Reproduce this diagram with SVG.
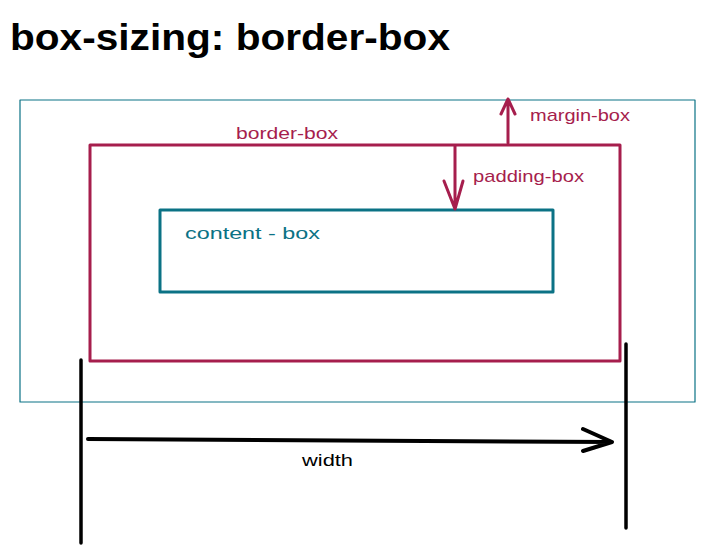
<svg xmlns="http://www.w3.org/2000/svg" width="705" height="553" viewBox="0 0 705 553">
<style>
.crim{stroke:#a61e4d;fill:none;stroke-linecap:round;stroke-linejoin:round}
.teal{stroke:#0b7285;fill:none;stroke-linecap:round;stroke-linejoin:round}
.blk{stroke:#000;fill:none;stroke-linecap:round;stroke-linejoin:round}
.lbl{font-family:"Liberation Sans",Arial,sans-serif;font-size:17px}
</style>
<rect width="705" height="553" fill="#fff"/>
<g id="title"><text x="10" y="50" font-family="Liberation Sans, Arial, sans-serif" font-size="36" font-weight="bold" fill="#000" textLength="440" lengthAdjust="spacingAndGlyphs">box-sizing: border-box</text></g>
<g id="margin-box"><rect class="teal" x="20" y="100" width="675" height="302" stroke-width="1.2"/></g>
<g id="border-box"><rect class="crim" x="90" y="145" width="530" height="216" stroke-width="3"/>
<text class="lbl" x="236" y="139" fill="#a61e4d" textLength="102" lengthAdjust="spacingAndGlyphs">border-box</text></g>
<g id="content-box"><rect class="teal" x="160" y="210" width="393" height="82" stroke-width="3"/>
<text class="lbl" x="185" y="239" fill="#0b7285" textLength="135" lengthAdjust="spacingAndGlyphs">content - box</text></g>
<g id="labels">
<text class="lbl" x="530" y="121" fill="#a61e4d" textLength="100" lengthAdjust="spacingAndGlyphs">margin-box</text>
<text class="lbl" x="473" y="182" fill="#a61e4d" textLength="111" lengthAdjust="spacingAndGlyphs">padding-box</text>
<text class="lbl" x="302" y="466" fill="#000" textLength="51" lengthAdjust="spacingAndGlyphs">width</text>
</g>
<g id="connectors">
<path class="crim" stroke-width="3" d="M508 143 L508 99 M501 114 L508 99 L515 114"/>
<path class="crim" stroke-width="3" d="M455 146 L455 209 M444 181 L455 209 L463 181"/>
<path class="blk" stroke-width="3.5" d="M81 360 L81 543"/>
<path class="blk" stroke-width="3.5" d="M626 344 L626 528"/>
<path class="blk" stroke-width="4" d="M88 439 L612 442 M583 429 L612 442 L583 451"/>
</g>
</svg>
